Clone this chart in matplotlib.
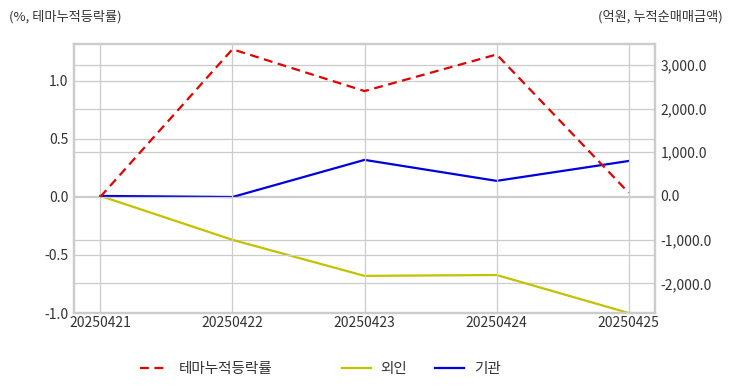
import matplotlib.pyplot as plt
from matplotlib.ticker import FuncFormatter

plt.rcParams['font.family'] = ['Noto Sans CJK KR', 'DejaVu Sans']

# data
dates = ["20250421", "20250422", "20250423", "20250424", "20250425"]
theme_rate = [0.0, 1.27, 0.91, 1.225, 0.035]
foreign = [0.0, -1005.0, -1830.0, -1810.0, -2680.0]
institution = [0.0, -25.0, 825.0, 345.0, 800.0]

fig = plt.figure(figsize=(7.32, 3.92), dpi=100)
ax = fig.add_axes([0.101, 0.2015, 0.794, 0.6865])
ax2 = ax.twinx()

x = range(len(dates))
grid_c = "#cccccc"

# right axis: money
l2, = ax2.plot(x, foreign, color="#c2c200", lw=1.6, label="외인")
l3, = ax2.plot(x, institution, color="#0000dd", lw=1.6, label="기관")
# left axis: theme rate (drawn on top)
l1, = ax.plot(x, theme_rate, color="#e00000", lw=1.6, ls=(0, (4, 2.5)), label="테마누적등락률")
ax.set_zorder(ax2.get_zorder() + 1)
ax.patch.set_visible(False)

ax.set_xlim(-0.2, len(dates) - 1 + 0.2)
ax.set_ylim(-1.0, 1.316)
ax.set_yticks([-1.0, -0.5, 0.0, 0.5, 1.0])
ax.yaxis.set_major_formatter(FuncFormatter(lambda v, p: f"{v:.1f}"))
ax2.set_ylim(-2680, 3480)
ax2.set_yticks([-2000, -1000, 0, 1000, 2000, 3000])
ax2.yaxis.set_major_formatter(FuncFormatter(lambda v, p: f"{v:,.1f}"))
ax.set_xticks(list(x))
ax.set_xticklabels(dates)

for a in (ax, ax2):
    a.grid(True, color=grid_c, lw=0.9)
    a.set_axisbelow(True)
    a.tick_params(length=0, labelsize=10, colors="#333333", pad=4)
    for s in a.spines.values():
        s.set_color(grid_c)
        s.set_linewidth(1.6)
ax2.grid(axis="x", visible=False)
ax.tick_params(axis="x", pad=2)

fig.text(0.012, 0.957, "(%, 테마누적등락률)", fontsize=9.5, color="#333333", ha="left", va="center")
fig.text(0.987, 0.957, "(억원, 누적순매매금액)", fontsize=9.5, color="#333333", ha="right", va="center")

leg_kw = dict(frameon=False, fontsize=10.5, handlelength=2.0, handletextpad=0.65,
              borderpad=0, borderaxespad=0, labelcolor="#333333", loc="center left")
fig.legend(handles=[l1], bbox_to_anchor=(140 / 732, 0.058), **leg_kw)
fig.legend(handles=[l2, l3], bbox_to_anchor=(342 / 732, 0.058), ncol=2,
           columnspacing=1.9, **leg_kw)

fig.savefig("out.png", dpi=100)
